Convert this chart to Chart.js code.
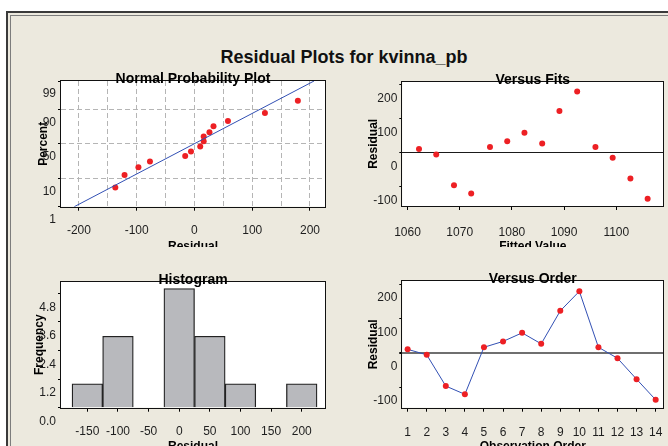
<!DOCTYPE html>
<html>
<head>
<meta charset="utf-8">
<title>Residual Plots for kvinna_pb</title>
<script src="https://cdn.jsdelivr.net/npm/chart.js@4.4.1/dist/chart.umd.min.js"></script>
<style>
  html, body { margin: 0; padding: 0; background: #fff; }
  #page { position: relative; width: 668px; height: 446px; overflow: hidden; background: #fff;
          font-family: 'Liberation Sans', Arial, sans-serif; }
  #outer { position: absolute; left: 6px; top: 11px; width: 720px; height: 500px;
           border-left: 2px solid #3a3a3a; border-top: 2px solid #3a3a3a; background: #ECE9DE; }
  #inner { position: absolute; left: 2px; top: 2px; right: 0; bottom: 0;
           border-left: 1px solid #7c7c7c; border-top: 1px solid #7c7c7c; }
  #mainTitle { position: absolute; left: 0; top: 47px; width: 688px; height: 20px; line-height: 20px;
               text-align: center; font: bold 18px 'Liberation Sans', Arial, sans-serif; color: #111; }
  .panel { position: absolute; overflow: hidden; }
  .panel canvas { display: block; }
</style>
</head>
<body>
<div id="page">
  <div id="outer"><div id="inner"></div></div>
  <div id="mainTitle">Residual Plots for kvinna_pb</div>
  <div class="panel" id="npp"></div>
  <div class="panel" id="fits"></div>
  <div class="panel" id="hist"></div>
  <div class="panel" id="order"></div>
</div>
<script>
// ---- data ----
const observationOrder = [1, 2, 3, 4, 5, 6, 7, 8, 9, 10, 11, 12, 13, 14];
const residuals = [10, -6, -97, -121, 16, 33, 58, 26, 122, 179, 16, -16, -77, -137];
const fittedValues = [1062.2, 1065.5, 1068.9, 1072.2, 1075.8, 1079.1, 1082.4, 1085.8, 1089.1, 1092.5, 1096.0, 1099.3, 1102.7, 1106.0];
const nppPercent = [5.3, 12.5, 19.4, 25.7, 32.8, 38.9, 46.1, 53.9, 60.7, 66.7, 74.3, 80.2, 87.4, 94.5];
const fitLineResidual = [-208, 207];
const fitLinePercent = [1, 99];
const histMidpoints = [-150, -100, -50, 0, 50, 100, 150, 200];
const histCounts = [1, 3, 0, 5, 3, 1, 0, 1];

// ---- tick values ----
const percentTicks = [1, 10, 50, 90, 99];
const nppResidualTicks = [-200, -150, -100, -50, 0, 50, 100, 150, 200];
const fittedTicks = [1060, 1070, 1080, 1090, 1100];
const residualTicks = [-100, 0, 100, 200];
const frequencyTicks = [0, 1.2, 2.4, 3.6, 4.8];
const histTicks = [-150, -100, -50, 0, 50, 100, 150, 200];

// ---- styling ----
const FAMILY = "'Liberation Sans', Arial, sans-serif";
const RED = '#ED2024';
const BLUE = '#3250B4';
const TICK_COLOR = '#1e1e1e';
const X_TICK_FONT = { family: FAMILY, size: 12 };
const Y_TICK_FONT = { family: "'Liberation Sans Narrow', " + FAMILY, size: 12 };
const AXIS_TITLE_FONT = { family: FAMILY, size: 12, weight: 'bold' };
Chart.defaults.font.family = FAMILY;

// ---- normal probability scale (percent axis, linear in normal score) ----
function probit(percent) {
  const a = [-3.969683028665376e+01, 2.209460984245205e+02, -2.759285104469687e+02, 1.383577518672690e+02, -3.066479806614716e+01, 2.506628277459239e+00];
  const b = [-5.447609879822406e+01, 1.615858368580409e+02, -1.556989798598866e+02, 6.680131188771972e+01, -1.328068155288572e+01];
  const c = [-7.784894002430293e-03, -3.223964580411365e-01, -2.400758277161838e+00, -2.549671348283870e+00, 4.374664141464968e+00, 2.938163982698783e+00];
  const d = [7.784695709041462e-03, 3.224671290700398e-01, 2.445134137142996e+00, 3.754408661907416e+00];
  const p = percent / 100, plow = 0.02425, phigh = 1 - plow;
  let q, r;
  if (p < plow) {
    q = Math.sqrt(-2 * Math.log(p));
    return (((((c[0]*q+c[1])*q+c[2])*q+c[3])*q+c[4])*q+c[5]) / ((((d[0]*q+d[1])*q+d[2])*q+d[3])*q+1);
  }
  if (p > phigh) {
    q = Math.sqrt(-2 * Math.log(1 - p));
    return -(((((c[0]*q+c[1])*q+c[2])*q+c[3])*q+c[4])*q+c[5]) / ((((d[0]*q+d[1])*q+d[2])*q+d[3])*q+1);
  }
  q = p - 0.5; r = q * q;
  return (((((a[0]*r+a[1])*r+a[2])*r+a[3])*r+a[4])*r+a[5])*q / (((((b[0]*r+b[1])*r+b[2])*r+b[3])*r+b[4])*r+1);
}
function normCdfPercent(z) {
  const t = 1 / (1 + 0.2316419 * Math.abs(z));
  const poly = t * (0.319381530 + t * (-0.356563782 + t * (1.781477937 + t * (-1.821255978 + t * 1.330274429))));
  const tail = Math.exp(-z * z / 2) / Math.sqrt(2 * Math.PI) * poly;
  return 100 * (z >= 0 ? 1 - tail : tail);
}
class ProbabilityScale extends Chart.LinearScale {
  static id = 'probability';
  determineDataLimits() {
    this.min = this.options.min;
    this.max = this.options.max;
  }
  buildTicks() { return []; }
  configure() {
    super.configure();
    this._zStart = probit(this.min);
    this._zEnd = probit(this.max);
  }
  getPixelForValue(value) {
    if (value === null || value === undefined) return NaN;
    return this.getPixelForDecimal((probit(value) - this._zStart) / (this._zEnd - this._zStart));
  }
  getValueForPixel(pixel) {
    const dec = this.getDecimalForPixel(pixel);
    return normCdfPercent(this._zStart + dec * (this._zEnd - this._zStart));
  }
}
Chart.register(ProbabilityScale);

// ---- panel frame and panel title ----
const panelDecor = {
  id: 'panelTitle',
  beforeDraw(chart) {
    const { ctx, chartArea: a } = chart;
    ctx.save();
    ctx.fillStyle = '#ffffff';
    ctx.fillRect(a.left, a.top, a.right - a.left, a.bottom - a.top);
    ctx.restore();
  },
  afterDatasetsDraw(chart) {
    const { ctx, chartArea: a } = chart;
    ctx.save();
    ctx.strokeStyle = '#111';
    ctx.lineWidth = 1;
    const l = Math.round(a.left) - 0.5, t = Math.round(a.top) - 0.5;
    const r = Math.round(a.right) + 0.5, b = Math.round(a.bottom) + 0.5;
    ctx.strokeRect(l, t, r - l, b - t);
    ctx.restore();
  },
  afterDraw(chart, args, opts) {
    const { ctx, chartArea: a } = chart;
    ctx.save();
    ctx.font = 'bold 14px ' + FAMILY;
    ctx.fillStyle = '#000';
    ctx.textAlign = 'center';
    ctx.textBaseline = 'alphabetic';
    ctx.fillText(opts.text, (a.left + a.right) / 2, a.top + 2);
    ctx.restore();
  }
};

function fixedTicks(values) {
  return scale => { scale.ticks = values.map(v => ({ value: v })); };
}
const plainNumber = v => String(v);

function xAxis(type, min, max, ticks, pad, extra) {
  return Object.assign({
    type, min, max, offset: false,
    afterBuildTicks: fixedTicks(ticks),
    ticks: { autoSkip: false, maxRotation: 0, minRotation: 0, padding: pad, font: X_TICK_FONT, color: TICK_COLOR,
             callback: plainNumber },
    grid: { display: true, drawOnChartArea: false, offset: false, tickLength: 4, tickColor: '#000', tickWidth: 1 },
    border: { display: false }
  }, extra || {});
}
function yAxis(type, min, max, ticks, labelOffset, extra) {
  return Object.assign({
    type, min, max,
    afterBuildTicks: fixedTicks(ticks),
    ticks: { autoSkip: false, padding: 2, labelOffset, font: Y_TICK_FONT, color: TICK_COLOR, callback: plainNumber },
    grid: { display: true, drawOnChartArea: false, tickLength: 3, tickColor: '#000', tickWidth: 1 },
    border: { display: false }
  }, extra || {});
}

function panel(id, box, area, cfg) {
  const wrap = document.getElementById(id);
  Object.assign(wrap.style, { left: box.x + 'px', top: box.y + 'px', width: box.w + 'px', height: box.h + 'px' });
  const canvas = document.createElement('canvas');
  const ch = box.h + 24;
  canvas.width = box.w;
  canvas.height = ch;
  wrap.appendChild(canvas);
  const x = cfg.x, y = cfg.y;
  x.afterFit = s => { s.height = ch - (area.b - box.y); s.paddingLeft = 0; s.paddingRight = 0; };
  y.afterFit = s => { s.width = area.l - box.x; s.paddingTop = 0; s.paddingBottom = 0; };
  x.title = { display: true, text: cfg.xTitle, font: AXIS_TITLE_FONT, color: '#000',
              padding: { top: 0, bottom: ch - (cfg.xTitleY - box.y) - 7.2 } };
  y.title = { display: true, text: cfg.yTitle, font: AXIS_TITLE_FONT, color: '#000',
              padding: { top: cfg.yTitleX - box.x - 7.2, bottom: 0 } };
  return new Chart(canvas, {
    type: cfg.type,
    data: { datasets: cfg.datasets },
    options: {
      responsive: false,
      animation: false,
      events: [],
      layout: { padding: { left: 0, top: area.t - box.y, right: box.x + box.w - area.r, bottom: 0 } },
      plugins: { legend: { display: false }, tooltip: { enabled: false }, panelTitle: { text: cfg.title } },
      scales: { x, y }
    },
    plugins: [panelDecor]
  });
}

const pointStyle = { pointRadius: 3, pointBackgroundColor: RED, pointBorderWidth: 0, pointBorderColor: RED };
const sortedResiduals = residuals.slice().sort((a, b) => a - b);

// Normal probability plot
panel('npp', { x: 28, y: 64, w: 322, h: 183 }, { l: 61, t: 81, r: 325, b: 206.7 }, {
  type: 'scatter',
  title: 'Normal Probability Plot', xTitle: 'Residual', yTitle: 'Percent', xTitleY: 246.3, yTitleX: 43.3,
  datasets: [
    { data: fitLineResidual.map((r, i) => ({ x: r, y: fitLinePercent[i] })), showLine: true,
      borderColor: BLUE, borderWidth: 1, pointRadius: 0 },
    Object.assign({ data: sortedResiduals.map((r, i) => ({ x: r, y: nppPercent[i] })) }, pointStyle)
  ],
  x: xAxis('linear', -231, 226, nppResidualTicks, 13, {
    ticks: { autoSkip: false, maxRotation: 0, padding: 13, font: X_TICK_FONT, color: TICK_COLOR,
             callback: v => (v % 100 === 0 ? String(v) : '') },
    grid: { display: true, drawOnChartArea: true, offset: false, color: '#B5B5B5', lineWidth: 1, tickLength: 4,
            tickColor: ctx => (ctx.tick && ctx.tick.value % 100 === 0 ? '#000' : 'rgba(0,0,0,0)') },
    border: { display: false, dash: [5, 3] }
  }),
  y: yAxis('probability', 1, 99, percentTicks, 13, {
    ticks: { autoSkip: false, padding: 2, labelOffset: 13, font: Y_TICK_FONT, color: TICK_COLOR, callback: plainNumber },
    grid: { display: true, drawOnChartArea: true, tickLength: 3, tickColor: '#000', lineWidth: 1,
            color: ctx => (ctx.tick && (ctx.tick.value === 1 || ctx.tick.value === 99) ? 'rgba(0,0,0,0)' : '#B5B5B5') },
    border: { display: false, dash: [5, 3] }
  })
});

// Residuals versus fitted values
panel('fits', { x: 358, y: 64, w: 310, h: 183 }, { l: 402.3, t: 81.7, r: 663.3, b: 206 }, {
  type: 'scatter',
  title: 'Versus Fits', xTitle: 'Fitted Value', yTitle: 'Residual', xTitleY: 246.3, yTitleX: 374,
  datasets: [
    Object.assign({ data: fittedValues.map((f, i) => ({ x: f, y: residuals[i] })) }, pointStyle)
  ],
  x: xAxis('linear', 1059, 1109, fittedTicks, 15),
  y: yAxis('linear', -158, 208, residualTicks, 14, {
    grid: { display: true, drawOnChartArea: true, tickLength: 3, tickColor: '#000', lineWidth: 1,
            color: ctx => (ctx.tick && ctx.tick.value === 0 ? '#1a1a1a' : 'rgba(0,0,0,0)') }
  })
});

// Histogram of residuals
panel('hist', { x: 28, y: 262, w: 322, h: 184 }, { l: 61, t: 281.7, r: 325, b: 407.7 }, {
  type: 'bar',
  title: 'Histogram', xTitle: 'Residual', yTitle: 'Frequency', xTitleY: 446.3, yTitleX: 40,
  datasets: [{
    data: histMidpoints.map((m, i) => ({ x: m, y: histCounts[i] })),
    backgroundColor: '#B8B9BD', borderColor: '#222', borderWidth: 1.3,
    barPercentage: 1, categoryPercentage: 1
  }],
  x: xAxis('linear', -193, 238, histTicks, 12.4),
  y: yAxis('linear', 0, 5.29, frequencyTicks, 14, {
    ticks: { autoSkip: false, padding: 2, labelOffset: 14, font: Y_TICK_FONT, color: TICK_COLOR, callback: v => v.toFixed(1) }
  })
});

// Residuals versus observation order
panel('order', { x: 358, y: 262, w: 310, h: 184 }, { l: 402.3, t: 281, r: 663.3, b: 407.7 }, {
  type: 'scatter',
  title: 'Versus Order', xTitle: 'Observation Order', yTitle: 'Residual', xTitleY: 446.3, yTitleX: 374,
  datasets: [
    Object.assign({ data: observationOrder.map((o, i) => ({ x: o, y: residuals[i] })), showLine: true,
                    borderColor: BLUE, borderWidth: 1 }, pointStyle)
  ],
  x: xAxis('linear', 0.72, 14.4, observationOrder, 14),
  y: yAxis('linear', -160, 209, residualTicks, 14, {
    grid: { display: true, drawOnChartArea: true, tickLength: 3, tickColor: '#000',
            lineWidth: ctx => (ctx.tick && ctx.tick.value === 0 ? 2 : 1),
            color: ctx => (ctx.tick && ctx.tick.value === 0 ? '#6f6f6f' : 'rgba(0,0,0,0)') }
  })
});
</script>
</body>
</html>
